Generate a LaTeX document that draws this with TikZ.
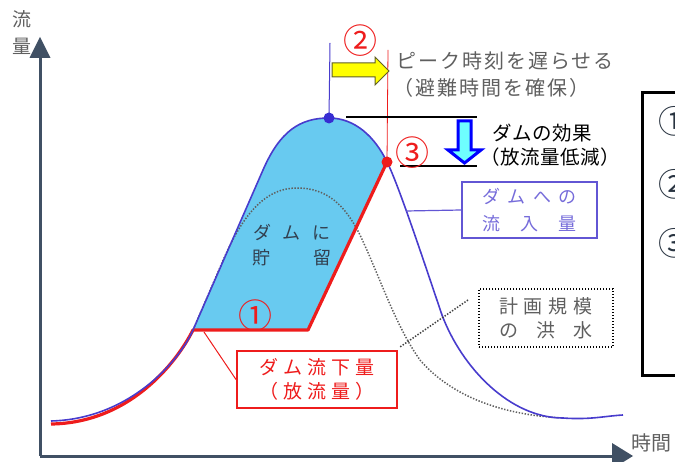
\documentclass[tikz,border=0pt]{standalone}
\usepackage{fontspec}
\setmainfont{Noto Sans CJK JP}
\newcommand\fsz[1]{\fontsize{#1}{#1}\selectfont}
\newcommand\spreadbox[2]{\makebox[#1][s]{#2}}
\definecolor{axisc}{RGB}{64,80,100}
\definecolor{inflow}{RGB}{72,60,205}
\definecolor{dotblue}{RGB}{55,45,210}
\definecolor{fillc}{RGB}{104,202,240}
\definecolor{redc}{RGB}{238,28,28}
\definecolor{boxtext}{RGB}{118,108,218}
\definecolor{boxline}{RGB}{98,86,212}
\definecolor{graytext}{RGB}{95,95,95}
\definecolor{darktext}{RGB}{50,64,80}
\definecolor{cyanfill}{RGB}{110,255,255}
\definecolor{arrowblue}{RGB}{0,0,255}
\definecolor{yellowc}{RGB}{255,255,0}
\definecolor{olive}{RGB}{95,95,40}
\begin{document}
\begin{tikzpicture}[x=1pt,y=-1pt,
  lbl/.style={inner sep=0pt, anchor=center},
  numred/.style={lbl, text=redc, font=\fsz{34}},
  numgray/.style={lbl, text=darktext!80!black, font=\fsz{32}},
]
\useasboundingbox (0,0) rectangle (675,462);
\clip (0,0) rectangle (675,462);

% axes
\coordinate (O) at (40,456);
\coordinate (ytip) at (40,37);
\coordinate (xtip) at (633,456);
\draw[axisc, line width=3pt] (O) -- (40,55);
\fill[axisc] (29.5,58) -- (ytip) -- (50.5,58) -- cycle;
\draw[axisc, line width=3pt] (O) -- (615,456);
\fill[axisc] (612,443) -- (xtip) -- (612,469) -- cycle;
\node[lbl, text=graytext, font=\fsz{19}] (ylab1) at (22,19) {流};
\node[lbl, text=graytext, font=\fsz{19}] (ylab2) at (22,46) {量};
\node[lbl, text=graytext, font=\fsz{20}] (xlab) at (651,443) {時間};

% curve key points
\coordinate (s) at (51,421);
\coordinate (k) at (193,330);
\coordinate (r1) at (263,170);
\coordinate (pk) at (329,118);
\coordinate (c3) at (387,162);
\coordinate (m1) at (442,315);
\coordinate (m2) at (563,418);
\coordinate (e) at (623,415);
\coordinate (k2) at (308,330);

% storage fill
\fill[fillc] (k) -- (r1) .. controls (280,131) and (300,118) .. (pk)
  .. controls (355,118) and (375,137) .. (c3) -- (k2) -- cycle;

% planned flood (dotted)
\draw[graytext, line width=1.5pt, dash pattern=on 1.4pt off 1.6pt]
  (k) -- (221,265) .. controls (240,220) and (262,188) .. (297,188)
  .. controls (327,188) and (345,205) .. (360,235)
  .. controls (380,277) and (395,325) .. (420,360)
  .. controls (450,395) and (500,415) .. (m2);

% red outflow
\draw[redc, line width=3.2pt, line join=round]
  (51,424) .. controls (130,423) and (177,362) .. (k) -- (k2) -- (c3);

% inflow
\draw[inflow, line width=1.6pt] (s) .. controls (130,419) and (180,360) .. (k)
  -- (r1) .. controls (280,131) and (300,118) .. (pk)
  .. controls (355,118) and (375,137) .. (c3)
  .. controls (398,183) and (425,265) .. (m1)
  .. controls (462,368) and (510,418) .. (m2)
  .. controls (590,420) and (605,416) .. (e);

% vertical markers
\draw[inflow, line width=1pt] (pk) -- (330,43);
\draw[redc, line width=0.8pt] (c3) -- (388,50);
\fill[dotblue] (pk) circle (5.5);
\fill[redc] (c3) circle (5.5);

% yellow arrow
\filldraw[fill=yellowc, draw=olive, line width=1pt, line join=miter]
  (332,63) -- (375,63) -- (375,57) -- (389,71) -- (375,85) -- (375,77) -- (332,77) -- cycle;

% black level lines and blue arrow
\draw[black, line width=2.2pt] (346,117) -- (477,117);
\draw[black, line width=2.2pt] (400,166) -- (477,166);
\filldraw[fill=cyanfill, draw=arrowblue, line width=3pt, line join=miter]
  (458,121) -- (471,121) -- (471,150) -- (481,150) -- (464.5,163) -- (448,150) -- (458,150) -- cycle;

% texts
\node[numred] (n2) at (360,41) {②};
\node[numred] (n3) at (412,153) {③};
\node[numred] (n1) at (255,316) {①};
\node[anchor=west, inner sep=0pt, text=graytext, font=\fsz{20}\addfontfeature{LetterSpace=10}] (delay1) at (396,61) {ピーク時刻を遅らせる};
\node[anchor=west, inner sep=0pt, text=graytext, font=\fsz{20}\addfontfeature{LetterSpace=10}] (delay2) at (393,88) {（避難時間を確保）};
\node[anchor=west, inner sep=0pt, text=black, font=\fsz{19.5}\addfontfeature{LetterSpace=3}] (eff1) at (492,133) {ダムの効果};
\node[anchor=west, inner sep=0pt, text=black, font=\fsz{19.5}\addfontfeature{LetterSpace=3}] (eff2) at (480,157) {（放流量低減）};

\node[lbl, text=darktext, font=\fsz{18}] (st1) at (292,232) {\spreadbox{78pt}{ダ\hfil ム\hfil に}};
\node[lbl, text=darktext, font=\fsz{18}] (st2) at (292,258) {\spreadbox{80pt}{貯\hfil 留}};

% inflow box
\node[draw=boxline, line width=1.5pt, minimum width=135pt, minimum height=56pt, inner sep=0pt,
  text=boxtext, font=\fsz{18}, align=center] (inbox) at (529.5,210)
  {\spreadbox{94pt}{ダ\hfil ム\hfil へ\hfil の}\\[9pt]\spreadbox{94pt}{流\hfil 入\hfil 量}};
\coordinate (inpt) at (406,211);
\draw[boxline, line width=1.2pt] (inbox.west) -- (inpt);

% planned flood box
\node[draw=black, line width=1.5pt, dash pattern=on 1.4pt off 1.6pt, minimum width=134pt, minimum height=58pt, inner sep=0pt,
  text=graytext, font=\fsz{19}, align=center] (plan) at (546,318)
  {\spreadbox{94pt}{計\hfil 画\hfil 規\hfil 模}\\[5pt]\spreadbox{94pt}{の\hfil 洪\hfil 水}};
\coordinate (pc1) at (468,300);
\coordinate (pc2) at (400,347);
\draw[black!75, line width=1.5pt, dash pattern=on 1.4pt off 1.6pt] (pc1) -- (pc2);

% outflow box
\node[draw=redc, line width=2pt, minimum width=160pt, minimum height=57pt, inner sep=0pt,
  text=redc, font=\fsz{19}, align=center] (rbox) at (317,379.5)
  {\spreadbox{116pt}{ダ\hfil ム\hfil 流\hfil 下\hfil 量}\\[5pt]\spreadbox{116pt}{（\hfil 放\hfil 流\hfil 量\hfil ）}};
\coordinate (rpt) at (204,332);
\draw[redc, line width=1pt] (rbox.west) -- (rpt);

% right box (cut off at the edge of the picture)
\draw[black, line width=3pt] (700,93) -- (642,93) -- (642,376) -- (700,376);
\node[numgray] (r1n) at (674,121) {①};
\node[numgray] (r2n) at (674,184) {②};
\node[numgray] (r3n) at (674,243) {③};
\end{tikzpicture}
\end{document}
